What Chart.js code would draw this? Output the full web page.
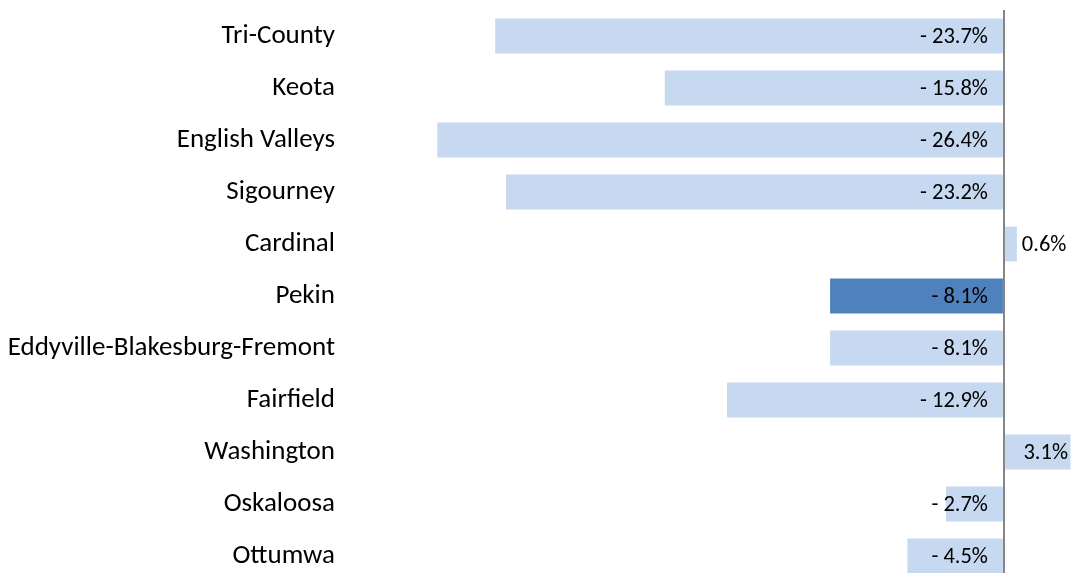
<!DOCTYPE html>
<html>
<head>
<meta charset="utf-8">
<script src="https://cdn.jsdelivr.net/npm/chart.js@4/dist/chart.umd.min.js"></script>
<style>
  html, body { margin: 0; padding: 0; background: #fff; overflow: hidden; }
  #wrap { position: relative; width: 1072px; height: 582px; }
</style>
</head>
<body>
<div id="wrap"><canvas id="chart"></canvas></div>
<script>
// ===== Enrollment change by district =====

const districts = ['Tri-County', 'Keota', 'English Valleys', 'Sigourney', 'Cardinal', 'Pekin',
  'Eddyville-Blakesburg-Fremont', 'Fairfield', 'Washington', 'Oskaloosa', 'Ottumwa'];
const changePct = [-23.7, -15.8, -26.4, -23.2, 0.6, -8.1, -8.1, -12.9, 3.1, -2.7, -4.5];
const highlight = 'Pekin';

const lightBlue = '#C6D9F1';
const darkBlue = '#4F81BD';
const fontFamily = "Carlito, Calibri, Lato, sans-serif";

function fmtPct(v) {
  return v < 0 ? '- ' + Math.abs(v).toFixed(1) + '%' : v.toFixed(1) + '%';
}

// Value labels: negatives sit inside near zero line, positives just past bar end
const valueLabels = {
  id: 'valueLabels',
  afterDatasetsDraw(chart) {
    const { ctx, chartArea, scales } = chart;
    const zeroX = scales.x.getPixelForValue(0);
    const meta = chart.getDatasetMeta(0);
    ctx.save();
    ctx.font = '22.5px ' + fontFamily;
    ctx.fillStyle = '#000';
    ctx.textBaseline = 'middle';
    meta.data.forEach((bar, i) => {
      const v = changePct[i];
      const txt = fmtPct(v);
      if (v < 0) {
        ctx.textAlign = 'right';
        ctx.fillText(txt, zeroX - 16, bar.y + 1);
      } else {
        const w = ctx.measureText(txt).width;
        let x = bar.x + 5;
        if (x + w > chartArea.right - 4) x = chartArea.right - 4 - w;
        ctx.textAlign = 'left';
        ctx.fillText(txt, x, bar.y + 1);
      }
    });
    ctx.restore();
  }
};

const ctx = document.getElementById('chart').getContext('2d');
new Chart(ctx, {
  type: 'bar',
  data: {
    labels: districts,
    datasets: [{
      data: changePct,
      backgroundColor: districts.map(d => d === highlight ? darkBlue : lightBlue),
      borderWidth: 0,
      categoryPercentage: 1,
      barPercentage: 0.67
    }]
  },
  options: {
    indexAxis: 'y',
    responsive: true,
    maintainAspectRatio: false,
    animation: false,
    layout: { padding: { top: 10, right: 0, bottom: 0, left: 0 } },
    plugins: {
      legend: { display: false },
      tooltip: { enabled: false }
    },
    scales: {
      x: {
        min: -30,
        max: 3.17,
        afterFit: s => { s.height = 0; s.paddingLeft = 0; s.paddingRight = 0; },
        ticks: { display: false, stepSize: 1 },
        border: { display: false },
        grid: {
          drawTicks: false,
          color: c => c.tick && c.tick.value === 0 ? '#868686' : 'rgba(0,0,0,0)',
          lineWidth: 2
        }
      },
      y: {
        afterFit: s => { s.width = 360; s.paddingTop = 0; s.paddingBottom = 0; },
        border: { display: false },
        grid: { display: false, drawTicks: false },
        ticks: {
          color: '#000',
          padding: 25,
          font: { family: fontFamily, size: 27 }
        }
      }
    }
  },
  plugins: [valueLabels]
});
</script>
</body>
</html>
